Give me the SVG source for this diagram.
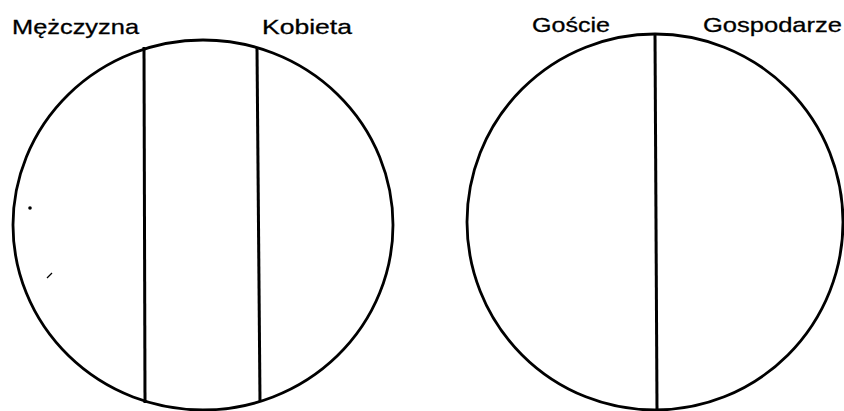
<svg xmlns="http://www.w3.org/2000/svg" width="844" height="411" viewBox="0 0 844 411">
<style>
.c{fill:none;stroke:#000;stroke-width:2.8}
.d{stroke:#000;stroke-width:3;fill:none}
.t{font-family:"Liberation Sans",Arial,sans-serif;font-size:21px;fill:#000;stroke:#000;stroke-width:0.3}
</style>
<rect width="844" height="411" fill="#fff"/>
<g id="left-circle">
<ellipse class="c" cx="203" cy="225" rx="190" ry="185"/>
<line class="d" x1="144" y1="47" x2="145" y2="403"/>
<line class="d" x1="257" y1="48" x2="260" y2="402"/>
<text class="t" x="12" y="34" textLength="127" lengthAdjust="spacingAndGlyphs">Mężczyzna</text>
<text class="t" x="262" y="34" textLength="90" lengthAdjust="spacingAndGlyphs">Kobieta</text>
<circle cx="30" cy="208" r="1.8" fill="#000"/>
<line x1="47" y1="278" x2="52" y2="273" stroke="#000" stroke-width="1.2"/>
</g>
<g id="right-circle">
<ellipse class="c" cx="655" cy="222" rx="188" ry="188"/>
<line class="d" x1="655" y1="34" x2="657" y2="410"/>
<text class="t" x="532" y="32" textLength="78" lengthAdjust="spacingAndGlyphs">Goście</text>
<text class="t" x="703" y="32" textLength="139" lengthAdjust="spacingAndGlyphs">Gospodarze</text>
</g>
</svg>
